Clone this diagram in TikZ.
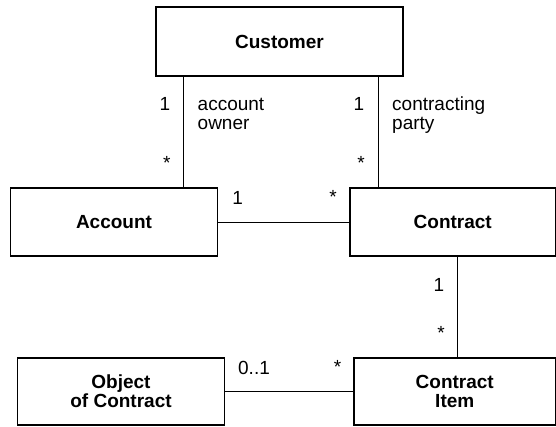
\documentclass[tikz,border=0pt]{standalone}
\usepackage{fontspec}
\setmainfont{Liberation Sans}
\begin{document}
\begin{tikzpicture}[x=1pt,y=-1pt,
  every node/.style={inner sep=0pt,font=\fontsize{19}{19.3}\selectfont},
  classbox/.style={draw,line width=1.3pt,align=center,
    font=\fontsize{19}{19}\selectfont\bfseries},
  mult/.style={anchor=base},
  role/.style={anchor=base west,align=left},
  link/.style={line width=1pt}]
\useasboundingbox (0,0) rectangle (556,426);

% classes
\node[classbox,minimum width=247pt,minimum height=69pt] (customer) at (279.5,41.5) {Customer};
\node[classbox,minimum width=207pt,minimum height=68pt] (account) at (114,222) {Account};
\node[classbox,minimum width=205.5pt,minimum height=68pt] (contract) at (452.75,222) {Contract};
\node[classbox,minimum width=207pt,minimum height=67pt] (object) at (121,391.5) {Object\\of Contract};
\node[classbox,minimum width=201.5pt,minimum height=67pt] (item) at (454.75,391.5) {Contract\\Item};

% associations
\coordinate (ownerEnd) at ([xshift=28pt]customer.south west);
\draw[link] (ownerEnd) -- (ownerEnd |- account.north);
\coordinate (partyEnd) at ([xshift=28.7pt]contract.north west);
\draw[link] (partyEnd) -- (partyEnd |- customer.south);
\draw[link] (account.east) -- (contract.west);
\coordinate (itemEnd) at ([xshift=104.5pt]item.north west);
\draw[link] (itemEnd) -- (itemEnd |- contract.south);
\draw[link] (object.east) -- (item.west);

% multiplicities and role names (role names: base anchor is the last line)
\node[mult] (m1) at (165,110) {1};
\node[mult] (m2) at (166.7,169) {*};
\node[role] (r1) at (197.5,129.3) {account\\owner};
\node[mult] (m3) at (359,110) {1};
\node[mult] (m4) at (361,169) {*};
\node[role] (r2) at (392,129.3) {contracting\\party};
\node[mult] (m5) at (237.6,204) {1};
\node[mult] (m6) at (333,203) {*};
\node[mult] (m7) at (439,291) {1};
\node[mult] (m8) at (441,339) {*};
\node[mult] (m9) at (254,374) {0..1};
\node[mult] (m10) at (337.6,373) {*};
\end{tikzpicture}
\end{document}
